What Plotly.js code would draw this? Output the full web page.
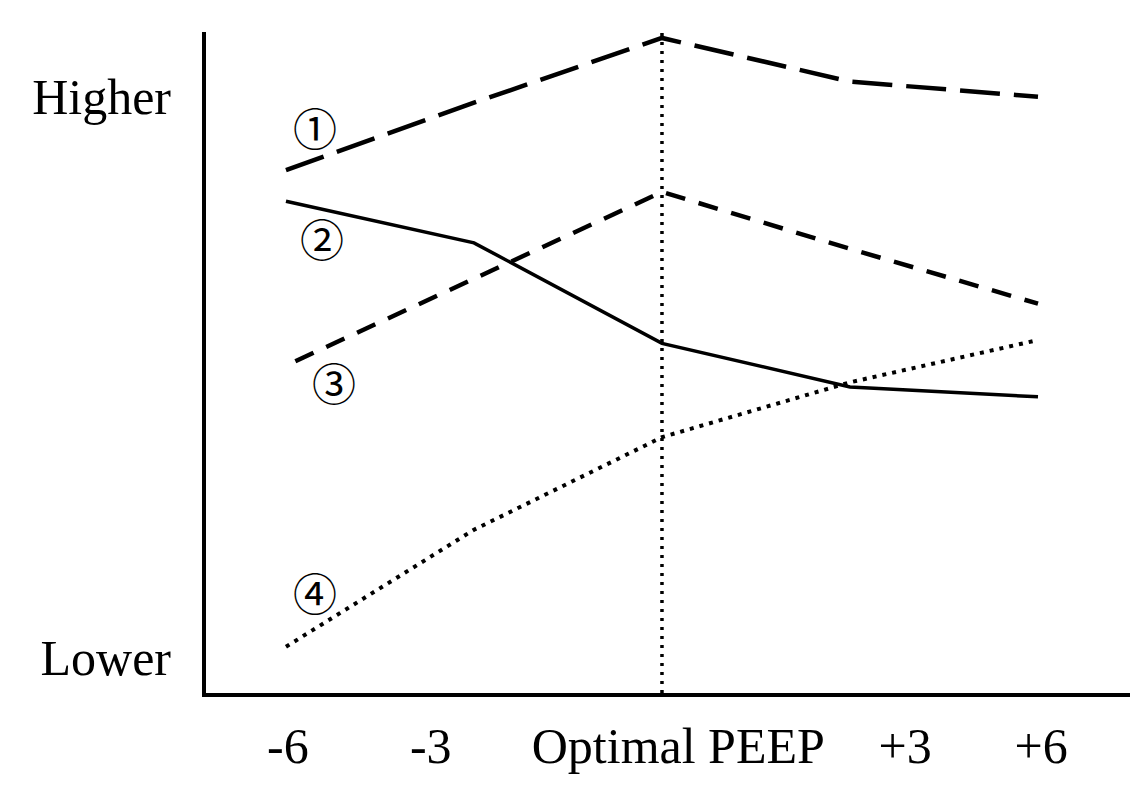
<!DOCTYPE html>
<html>
<head>
<meta charset="utf-8">
<script src="https://cdn.plot.ly/plotly-3.0.1.min.js"></script>
<style>html,body{margin:0;padding:0;background:#fff;}#chart{width:1130px;height:802px;}</style>
</head>
<body>
<div id="chart"></div>
<script>
// PEEP steps relative to optimal PEEP
var peepSteps = [-6, -3, 0, 3, 6];
var series3Steps = [-5.85, -3, 0, 3, 6];
// Relative level (0 = lower, 100 = higher)
var series1 = [79.1, 89.3, 99.1, 92.5, 90.2];
var series2 = [74.4, 68.1, 52.9, 46.3, 44.8];
var series3 = [50.2, 62.6, 75.8, 67.2, 58.9];
var series4 = [7.0, 24.7, 38.7, 47.0, 53.4];
var optimalLineX = [0, 0];
var optimalLineY = [0, 100.9];

var xTickPositions = [-5.97, -3.69, 0.26, 3.88, 6.05];
var xTickLabels = ['-6', '-3', 'Optimal PEEP', '+3', '+6'];
var yTickPositions = [90.3, 5.4];
var yTickLabels = ['Higher', 'Lower'];

var seriesLabels = ['\u2460', '\u2461', '\u2462', '\u2463'];
var seriesLabelX = [-5.54, -5.43, -5.23, -5.54];
var seriesLabelY = [85.6, 68.8, 47.0, 15.3];

var traces = [
  {x: peepSteps, y: series1, mode: 'lines', line: {color: '#000', width: 4.5, dash: '40px,14px'}, cliponaxis: false},
  {x: peepSteps, y: series2, mode: 'lines', line: {color: '#000', width: 3.5}, cliponaxis: false},
  {x: series3Steps, y: series3, mode: 'lines', line: {color: '#000', width: 4.5, dash: '20px,14px'}, cliponaxis: false},
  {x: peepSteps, y: series4, mode: 'lines', line: {color: '#000', width: 4, dash: '4px,6px'}, cliponaxis: false},
  {x: optimalLineX, y: optimalLineY, mode: 'lines', line: {color: '#000', width: 3.5, dash: '3px,6px'}, cliponaxis: false}
];

var annotations = seriesLabels.map(function (t, i) {
  return {x: seriesLabelX[i], y: seriesLabelY[i], xref: 'x', yref: 'y', text: t, showarrow: false,
          font: {family: 'Noto Sans CJK JP', size: 44, color: '#000'}, xanchor: 'center', yanchor: 'middle'};
});

var layout = {
  width: 1130, height: 802,
  margin: {l: 206, r: 0, t: 32, b: 109, pad: 0},
  paper_bgcolor: '#fff', plot_bgcolor: '#fff',
  showlegend: false,
  font: {family: 'Liberation Serif', size: 50, color: '#000'},
  xaxis: {
    range: [-7.276, 7.468], showgrid: false, zeroline: false,
    showline: true, linecolor: '#000', linewidth: 4,
    tickmode: 'array', tickvals: xTickPositions, ticktext: xTickLabels,
    ticks: '', ticklabelstandoff: 6,
    tickfont: {family: 'Liberation Serif', size: 50, color: '#000'}
  },
  yaxis: {
    range: [0, 100], showgrid: false, zeroline: false,
    showline: true, linecolor: '#000', linewidth: 4,
    tickmode: 'array', tickvals: yTickPositions, ticktext: yTickLabels,
    ticks: '', ticklabelstandoff: 21,
    tickfont: {family: 'Liberation Serif', size: 50, color: '#000'}
  },
  annotations: annotations
};

Plotly.newPlot('chart', traces, layout, {staticPlot: true, displayModeBar: false});
</script>
</body>
</html>
